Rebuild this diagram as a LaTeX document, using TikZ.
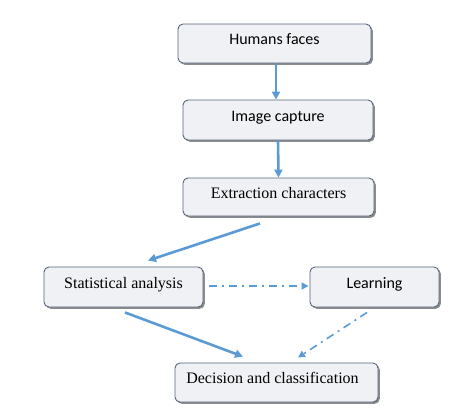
\documentclass[tikz,border=0pt]{standalone}
\usepackage{fontspec}
\newfontfamily\calfont{Carlito}
\newfontfamily\tmsfont{Liberation Serif}
\usetikzlibrary{arrows.meta,shadows}
\definecolor{arrowblue}{HTML}{5B9BD5}
\definecolor{boxedge}{HTML}{56657A}
\definecolor{boxfill}{HTML}{F0F1F4}
\tikzset{
  stepbox/.style={draw=boxedge, line width=0.9pt, fill=boxfill, rounded corners=5pt,
    inner sep=0pt, text height=11pt, text depth=9pt,
    drop shadow={shadow xshift=1.8pt, shadow yshift=-1.8pt, opacity=0.45, fill=black}},
  calbox/.style={stepbox, font=\calfont\fontsize{16}{19}\selectfont},
  tmsbox/.style={stepbox, font=\tmsfont\fontsize{16}{19}\selectfont},
  flow/.style={draw=arrowblue, line width=2.6pt, -{Triangle[length=8pt,width=8pt]}},
  dashflow/.style={draw=arrowblue, line width=1.6pt, dash pattern=on 8pt off 5pt on 2pt off 5pt,
    -{Triangle[length=7pt,width=7pt]}}
}
\begin{document}
\begin{tikzpicture}[x=1pt,y=-1pt]
\useasboundingbox (0,0) rectangle (473,416);
\node[calbox, minimum width=193pt, minimum height=39pt] (hum) at (274.5,43.5) {Humans faces};
\node[calbox, minimum width=190pt, minimum height=40pt] (img) at (278,120) {Image capture};
\node[tmsbox, minimum width=191pt, minimum height=38pt] (ext) at (278.5,197) {Extraction characters};
\node[tmsbox, minimum width=159pt, minimum height=40pt] (stat) at (123.5,287) {Statistical analysis};
\node[calbox, minimum width=129pt, minimum height=40pt] (learn) at (374.5,287) {Learning};
\node[tmsbox, minimum width=203pt, minimum height=39pt] (dec) at (276.5,382.5) {Decision and classification\hspace*{8pt}};

\draw[flow] ([xshift=1.5pt]hum.south) -- ([xshift=-2pt]img.north);
\draw[flow] (img.south) -- (ext.north);
\draw[flow] ([xshift=-18.5pt,yshift=-7pt]ext.south) -- ([xshift=24.5pt,yshift=6pt]stat.north);
\draw[flow] ([xshift=1.5pt,yshift=-5pt]stat.south) -- ([xshift=-33.5pt,yshift=6pt]dec.north);
\draw[dashflow] ([xshift=6pt,yshift=1pt]stat.east) -- ([xshift=-1pt,yshift=1pt]learn.west);
\draw[dashflow] ([xshift=-7.5pt,yshift=-5pt]learn.south) -- ([xshift=21.5pt,yshift=5pt]dec.north);
\end{tikzpicture}
\end{document}
